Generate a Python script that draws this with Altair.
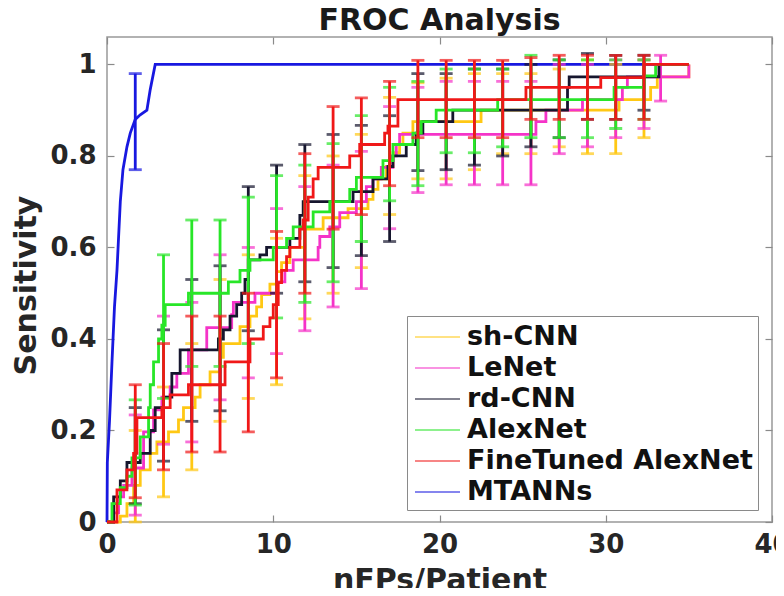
import altair as alt
import pandas as pd

NAMES = ["sh-CNN", "LeNet", "rd-CNN", "AlexNet", "FineTuned AlexNet", "MTANNs"]
COLORS = ["#FFC814", "#F533C8", "#16162E", "#28E628", "#F01818", "#1818E0"]

# ---- FROC curves (step points) ----
SH_X = [0, 0.8, 1.2, 1.6, 2.0, 2.6, 3.0, 3.7, 4.3, 4.6, 5.3, 5.6, 6.2, 6.8, 7.0, 8.0, 8.6, 9.0, 9.3, 9.8,
        10.2, 10.5, 11.0, 11.9, 13.0, 14.5, 15.7, 16.0, 16.3, 16.8, 17.2, 17.6, 17.8, 18.4, 22.5, 30.8,
        32.7, 33.1, 35.0]
SH_Y = [0, 0.013, 0.04, 0.08, 0.114, 0.15, 0.175, 0.197, 0.223, 0.25, 0.273, 0.30, 0.328, 0.36, 0.39, 0.427,
        0.45, 0.47, 0.497, 0.52, 0.547, 0.567, 0.60, 0.64, 0.665, 0.685, 0.705, 0.727, 0.75, 0.777, 0.807,
        0.825, 0.85, 0.875, 0.90, 0.923, 0.95, 0.973, 1.0]

LENET_X = [0, 0.4, 0.7, 1.0, 1.5, 2.2, 2.8, 3.3, 3.8, 4.2, 4.9, 6.0, 7.5, 7.6, 8.9, 10.2, 10.7, 11.2, 12.7,
           12.8, 13.4, 14.0, 15.0, 15.6, 16.0, 16.5, 17.2, 17.4, 17.6, 25.8, 26.4, 28.6, 31.0, 31.3, 35.0]
LENET_Y = [0, 0.02, 0.055, 0.08, 0.118, 0.197, 0.245, 0.273, 0.295, 0.325, 0.376, 0.425, 0.453, 0.48, 0.50,
           0.525, 0.55, 0.573, 0.60, 0.624, 0.645, 0.676, 0.70, 0.733, 0.75, 0.775, 0.80, 0.825, 0.847,
           0.875, 0.90, 0.923, 0.95, 0.973, 1.0]

RD_X = [0, 0.4, 0.8, 1.2, 2.0, 2.6, 2.9, 3.4, 3.9, 4.4, 6.7, 7.0, 7.4, 7.8, 8.1, 8.3, 8.5, 9.2, 9.6, 11.0,
        11.6, 11.8, 14.8, 16.0, 16.9, 17.2, 18.0, 18.6, 19.0, 20.8, 27.7, 27.8, 33.2, 35.0]
RD_Y = [0, 0.055, 0.09, 0.13, 0.15, 0.20, 0.25, 0.273, 0.325, 0.376, 0.40, 0.42, 0.45, 0.475, 0.50, 0.53,
        0.573, 0.584, 0.60, 0.62, 0.67, 0.70, 0.722, 0.75, 0.777, 0.80, 0.825, 0.85, 0.875, 0.90, 0.95,
        0.973, 1.0, 1.0]

ALEX_X = [0, 0.3, 0.8, 1.2, 1.5, 2.0, 2.5, 2.6, 2.8, 3.1, 3.3, 3.5, 4.9, 7.3, 8.0, 8.6, 10.0, 10.8, 11.2,
          12.4, 13.4, 14.6, 15.0, 16.6, 17.2, 18.4, 18.9, 19.8, 23.5, 30.5, 32.3, 33.0, 35.0]
ALEX_Y = [0, 0.04, 0.075, 0.10, 0.14, 0.186, 0.25, 0.30, 0.35, 0.40, 0.43, 0.475, 0.50, 0.525, 0.55, 0.573,
          0.60, 0.62, 0.645, 0.678, 0.70, 0.727, 0.753, 0.79, 0.825, 0.85, 0.875, 0.90, 0.923, 0.95,
          0.975, 1.0, 1.0]

FT_X = [0, 0.6, 1.2, 1.6, 1.8, 3.3, 3.8, 4.9, 7.1, 8.6, 9.4, 9.8, 10.0, 10.3, 10.5, 10.8, 11.0, 11.6, 11.8,
        12.1, 12.4, 12.7, 14.6, 15.2, 16.7, 16.9, 17.5, 25.2, 29.7, 32.3, 35.0]
FT_Y = [0, 0.07, 0.114, 0.15, 0.228, 0.25, 0.278, 0.30, 0.35, 0.40, 0.427, 0.446, 0.475, 0.523, 0.55, 0.58,
        0.60, 0.64, 0.66, 0.71, 0.75, 0.775, 0.80, 0.825, 0.85, 0.865, 0.923, 0.95, 0.971, 1.0, 1.0]

MT_X = [0, 0.02, 0.15, 0.3, 0.45, 0.6, 0.8, 0.96, 1.2, 1.4, 1.7, 2.0, 2.4, 2.6, 2.9, 35.0]
MT_Y = [0, 0.13, 0.22, 0.35, 0.47, 0.55, 0.70, 0.77, 0.82, 0.85, 0.88, 0.89, 0.90, 0.945, 1.0, 1.0]

# ---- error bars ----
EB_X = [1.7, 3.4, 5.1, 6.8, 8.5, 10.2, 11.9, 13.6, 15.3, 17.0, 18.7, 20.4, 22.1, 23.8, 25.5, 27.2,
        28.9, 30.6, 32.3]
LENET_EB_X = EB_X + [33.3]
MT_EB_X = [1.7]

SH_LO = [0.0, 0.055, 0.114, 0.22, 0.27, 0.30, 0.444, 0.50, 0.556, 0.672, 0.75, 0.75, 0.77, 0.805, 0.805,
         0.82, 0.805, 0.805, 0.84]
SH_HI = [0.20, 0.295, 0.39, 0.53, 0.584, 0.62, 0.757, 0.80, 0.847, 0.928, 0.96, 0.97, 0.98, 0.98, 0.98,
         0.99, 1.01, 1.0, 1.01]
LENET_LO = [0.015, 0.17, 0.175, 0.267, 0.315, 0.368, 0.418, 0.47, 0.51, 0.641, 0.72, 0.737, 0.737, 0.737,
            0.737, 0.805, 0.82, 0.84, 0.86, 0.92]
LENET_HI = [0.234, 0.45, 0.48, 0.584, 0.60, 0.685, 0.733, 0.78, 0.81, 0.908, 0.95, 0.963, 0.963, 0.963,
            0.963, 1.0, 1.0, 1.01, 1.01, 1.02]
RD_LO = [0.04, 0.133, 0.22, 0.243, 0.418, 0.50, 0.525, 0.556, 0.582, 0.613, 0.768, 0.77, 0.78, 0.80, 0.82,
         0.84, 0.88, 0.88, 0.90]
RD_HI = [0.25, 0.42, 0.53, 0.56, 0.733, 0.78, 0.825, 0.847, 0.867, 0.888, 0.98, 0.98, 0.99, 0.99, 1.0,
         1.01, 1.024, 1.02, 1.02]
ALEX_LO = [0.037, 0.27, 0.34, 0.34, 0.39, 0.446, 0.48, 0.525, 0.613, 0.702, 0.735, 0.807, 0.807, 0.82,
           0.84, 0.84, 0.84, 0.86, 0.88]
ALEX_HI = [0.267, 0.584, 0.66, 0.66, 0.71, 0.757, 0.78, 0.827, 0.888, 0.95, 0.963, 0.99, 0.99, 0.99,
           1.02, 1.01, 1.01, 1.01, 1.01]
FT_LO = [0.053, 0.114, 0.153, 0.153, 0.197, 0.315, 0.50, 0.64, 0.672, 0.735, 0.84, 0.84, 0.84, 0.84,
         0.88, 0.88, 0.88, 0.88, 0.88]
FT_HI = [0.30, 0.39, 0.45, 0.45, 0.50, 0.635, 0.805, 0.908, 0.927, 0.963, 1.009, 1.009, 1.009, 1.009,
         1.015, 1.02, 1.02, 1.02, 1.02]
MT_LO = [0.77]
MT_HI = [0.98]

X_TICKS = [0, 10, 20, 30, 40]
Y_TICKS = [0, 0.2, 0.4, 0.6, 0.8, 1]

FONT = "DejaVu Sans"
TXT = "#262626"
TICK = "#8a8a8a"

x_scale = alt.Scale(domain=[0, 40], nice=False, zero=False)
y_scale = alt.Scale(domain=[0, 1.06], nice=False, zero=False)

x_axis = alt.Axis(values=X_TICKS, format="d", title="nFPs/Patient", titleFont=FONT, titleFontSize=30,
                  titleFontWeight="bold", titleColor=TXT, titleX=332.5, titleY=74,
                  titleBaseline="alphabetic", titleAlign="center",
                  labelFont=FONT, labelFontSize=26, labelFontWeight="bold", labelColor=TXT,
                  labelPadding=9, labelFlush=False, labelOverlap=False,
                  tickSize=7, tickColor=TICK, tickWidth=1.2, offset=-7, domain=False, grid=False)
y_axis = alt.Axis(values=Y_TICKS, format="~g", title="Sensitivity", titleFont=FONT, titleFontSize=30,
                  titleFontWeight="bold", titleColor=TXT, titleX=-79, titleY=248, titleAngle=270,
                  titleBaseline="alphabetic", titleAlign="center",
                  labelFont=FONT, labelFontSize=26, labelFontWeight="bold", labelColor=TXT,
                  labelPadding=11, labelFlush=False, labelOverlap=False,
                  tickSize=7, tickColor=TICK, tickWidth=1.2, offset=-7, domain=False, grid=False)
x_axis_top = alt.Axis(values=X_TICKS, orient="top", title=None, labels=False, tickSize=7,
                      tickColor=TICK, tickWidth=1.2, offset=-7, domain=False, grid=False)
y_axis_right = alt.Axis(values=Y_TICKS, orient="right", title=None, labels=False, tickSize=7,
                        tickColor=TICK, tickWidth=1.2, offset=-7, domain=False, grid=False)

legend = alt.Legend(title=None, orient="none", legendX=300, legendY=279,
                    symbolType="M-2,0L1,0", symbolSize=900, symbolStrokeWidth=1.6,
                    symbolOffset=17, labelFont=FONT, labelFontSize=27,
                    labelFontWeight="bold", labelColor="#111111", labelOffset=6, rowPadding=2,
                    padding=5, strokeColor=TICK, fillColor="white", labelLimit=500,
                    values=NAMES)
color = alt.Color("series:N", scale=alt.Scale(domain=NAMES, range=COLORS), legend=legend)


def X(f, ax=None):
    return alt.X(f, type="quantitative", scale=x_scale, axis=ax)


def Y(f, ax=None):
    return alt.Y(f, type="quantitative", scale=y_scale, axis=ax)


curves = {
    "sh-CNN": (SH_X, SH_Y, EB_X, SH_LO, SH_HI),
    "LeNet": (LENET_X, LENET_Y, LENET_EB_X, LENET_LO, LENET_HI),
    "rd-CNN": (RD_X, RD_Y, EB_X, RD_LO, RD_HI),
    "AlexNet": (ALEX_X, ALEX_Y, EB_X, ALEX_LO, ALEX_HI),
    "FineTuned AlexNet": (FT_X, FT_Y, EB_X, FT_LO, FT_HI),
    "MTANNs": (MT_X, MT_Y, MT_EB_X, MT_LO, MT_HI),
}

LW = 2.8
layers = []
order = ["MTANNs", "sh-CNN", "LeNet", "rd-CNN", "AlexNet", "FineTuned AlexNet"]
first = True
for name in order:
    xs, ys, ebx, lo, hi = curves[name]
    ldf = pd.DataFrame({"x": xs, "y": ys, "series": name})
    edf = pd.DataFrame({"x": ebx, "lo": lo, "hi": hi, "series": name})
    interp = "linear" if name == "MTANNs" else "step-after"
    xa = x_axis if first else None
    ya = y_axis if first else None
    first = False
    layers.append(alt.Chart(ldf).mark_line(interpolate=interp, strokeWidth=LW).encode(
        x=X("x", xa), y=Y("y", ya), color=color))
    layers.append(alt.Chart(edf).mark_rule(strokeWidth=LW).encode(
        x=X("x"), y=Y("lo"), y2="hi:Q", color=color))
    layers.append(alt.Chart(edf).mark_tick(orient="horizontal", size=13, thickness=LW).encode(
        x=X("x"), y=Y("lo"), color=color))
    layers.append(alt.Chart(edf).mark_tick(orient="horizontal", size=13, thickness=LW).encode(
        x=X("x"), y=Y("hi"), color=color))

# box-style ticks on the top and right edges
frame_df = pd.DataFrame({"x": MT_X, "y": MT_Y})
layers.append(alt.Chart(frame_df).mark_point(opacity=0).encode(
    x=X("x", x_axis_top), y=Y("y", y_axis_right)))

chart = alt.layer(*layers).resolve_axis(x="independent", y="independent").properties(
    width=665, height=485,
    title=alt.Title("FROC Analysis", font=FONT, fontSize=30, fontWeight="bold", color="#1a1a1a",
                    anchor="middle", baseline="alphabetic", offset=4, dy=28, frame="group"),
    autosize=alt.AutoSizeParams(type="none"),
    padding={"left": 99, "top": 29, "right": 4, "bottom": 66},
    background="white",
).configure_view(stroke="#999999", strokeWidth=1.5)

chart.save("out.html", embed_options={"renderer": "svg", "actions": False})
